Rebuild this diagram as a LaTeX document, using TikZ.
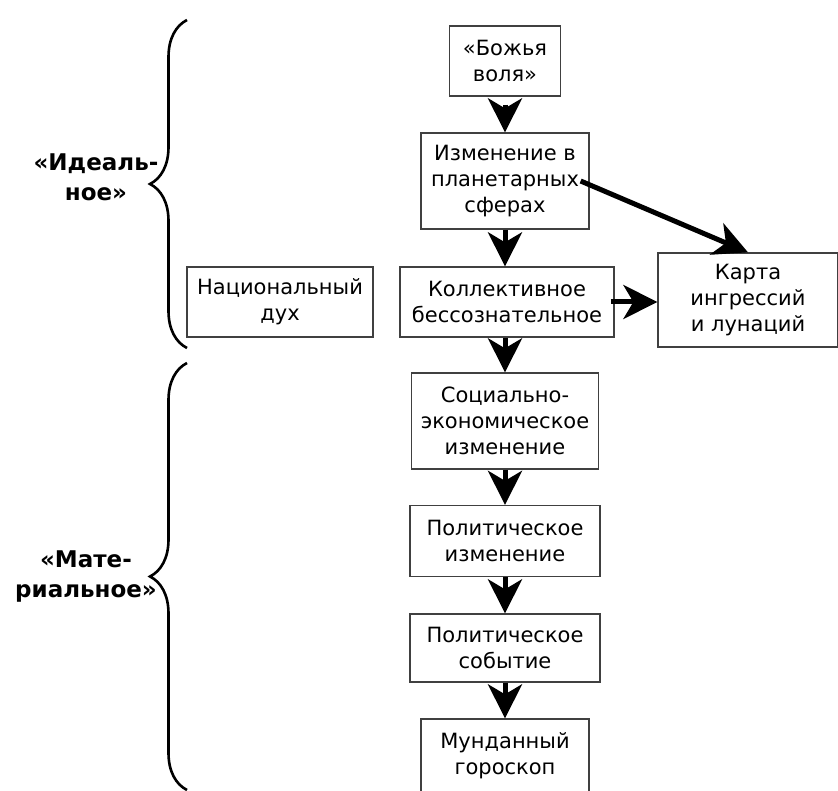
\documentclass[tikz,border=0pt]{standalone}
\usepackage{fontspec}
\setmainfont{DejaVu Sans}
\usetikzlibrary{arrows.meta,decorations.pathreplacing}

\tikzset{
  blok/.style={draw=black!75, line width=1.3pt, align=center, inner sep=0pt,
    font=\fontsize{21}{26}\selectfont},
  strelka/.style={line width=5pt, -{Stealth[length=34pt 0, width=34pt 0, inset=10pt 0]}},
  skobka/.style={line width=2.6pt, decorate, decoration={brace, amplitude=37pt}},
  metka/.style={align=center, font=\fontsize{23}{30}\selectfont\bfseries}
}

\begin{document}
\begin{tikzpicture}[x=1pt, y=-1pt]

\useasboundingbox (0,0) rectangle (838,791);

\node[blok, minimum width=111pt, minimum height=70pt] (volya) at (505,61) {«Божья\\воля»};
\node[blok, minimum width=168pt, minimum height=96pt] (sfery) at (505,181) {Изменение в\\планетарных\\сферах};
\node[blok, minimum width=214pt, minimum height=70pt] (kollekt) at (507,302) {Коллективное\\бессознательное};
\node[blok, minimum width=180pt, minimum height=94pt] (karta) at (748,300) {Карта\\ингрессий\\и лунаций};
\node[blok, minimum width=186pt, minimum height=70pt] (nacdukh) at (280,302) {Национальный\\дух};
\node[blok, minimum width=187pt, minimum height=96pt] (socek) at (505,421) {Социально-\\экономическое\\изменение};
\node[blok, minimum width=190pt, minimum height=71pt] (polizm) at (505,541) {Политическое\\изменение};
\node[blok, minimum width=190pt, minimum height=68pt] (polsob) at (505,648) {Политическое\\событие};
\node[blok, minimum width=168pt, minimum height=74pt] (mund) at (505,756) {Мунданный\\гороскоп};

% arrows
\draw[strelka] ([yshift=-8pt]volya.south) -- (sfery.north);
\draw[strelka] (sfery.south) -- (sfery.south |- kollekt.north);
\draw[strelka] ([xshift=-9pt]sfery.east) -- (karta.north);
\draw[strelka] ([xshift=-4pt]kollekt.east) -- (kollekt.east -| karta.west);
\draw[strelka] (kollekt.south -| socek.north) -- (socek.north);
\draw[strelka] (socek.south) -- (polizm.north);
\draw[strelka] (polizm.south) -- (polsob.north);
\draw[strelka] (polsob.south) -- (mund.north);

% braces
\draw[skobka] (187,348) -- (187,20);
\draw[skobka] (187,790) -- (187,363);

\node[metka] (ideal) at (96,177) {«Идеаль-\\ное»};
\node[metka] (mater) at (86,577) {«Мате-\\риальное»};

\end{tikzpicture}
\end{document}
